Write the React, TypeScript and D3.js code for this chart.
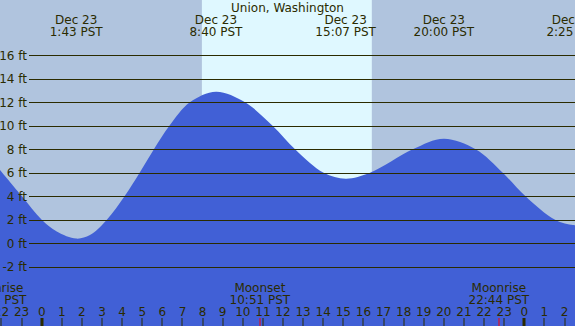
import React from "react";
import * as d3 from "d3";

// chart values
const stationName = "Union, Washington";
const ftTicks = [-2, 0, 2, 4, 6, 8, 10, 12, 14, 16];
const hourTicks = [-2, -1, 0, 1, 2, 3, 4, 5, 6, 7, 8, 9, 10, 11, 12, 13, 14, 15, 16, 17, 18, 19, 20, 21, 22, 23, 24, 25, 26];

// tide highs / lows printed on top
const tideEventDays = ["Dec 23", "Dec 23", "Dec 23", "Dec 23", "Dec 24"];
const tideEventTimes = ["1:43", "8:40", "15:07", "20:00", "2:25"];

// water level curve (hours from Dec 23 00:00, feet)
const tideHours = [-2.1, -0.98, 0, 0.75, 1.72, 2.4, 3.24, 4.12, 4.87, 5.58, 6.35, 7.37, 8.67, 10.11, 11.48, 12.6, 14.02, 15.12, 16.33, 18.45, 20.0, 21.58, 22.93, 24.06, 25.53, 26.42, 26.7];
const tideFeet = [6.3, 4.0, 2.0, 1.0, 0.4, 0.7, 2.0, 4.0, 6.0, 8.0, 10.0, 12.0, 12.9, 12.0, 10.0, 8.0, 6.0, 5.5, 6.0, 8.0, 8.9, 8.0, 6.0, 4.0, 2.0, 1.55, 1.57];

const sunrise = "7:58";
const sunset = "16:25";

const moonNames = ["Moonrise", "Moonset", "Moonrise"];
const moonDays = ["Dec 22", "Dec 23", "Dec 23"];
const moonTimes = ["21:44", "10:51", "22:44"];

const W = 575;
const H = 326;
const ink = "#2b2b00";
const font = "'DejaVu Sans', sans-serif";

const dayOffset = (d: string) => (d === "Dec 22" ? -24 : d === "Dec 24" ? 24 : 0);
const toHour = (t: string) => {
  const [h, m] = t.split(":").map(Number);
  return h + m / 60;
};

export default function App() {
  const x = d3.scaleLinear().domain([0, 24]).range([41.7, 524.3]);
  const y = d3.scaleLinear().domain([0, 16]).range([243.3, 55.3]);

  const pts = tideHours.map((h, i) => [h, tideFeet[i]] as [number, number]);
  const area = d3
    .area<[number, number]>()
    .x((d) => x(d[0]))
    .y0(H)
    .y1((d) => y(d[1]))
    .curve(d3.curveCatmullRom.alpha(0.5));

  const xRise = x(toHour(sunrise));
  const xSet = x(toHour(sunset));

  return (
    <svg
      width={W}
      height={H}
      style={{ position: "absolute", left: 0, top: 0 }}
      fontFamily={font}
    >
      <rect x={0} y={0} width={W} height={H} fill="#b0c4de" />
      <rect x={xRise} y={0} width={xSet - xRise} height={H} fill="#dff8ff" />
      <path d={area(pts) || ""} fill="#4160d6" />

      {/* gridlines + ft labels */}
      {ftTicks.map((f) => (
        <g key={f}>
          <line
            x1={29}
            x2={W}
            y1={Math.round(y(f)) + 0.5}
            y2={Math.round(y(f)) + 0.5}
            stroke={ink}
            strokeWidth={1}
          />
          <text x={27} y={y(f) + 4.5} textAnchor="end" fontSize={12} fill={ink}>
            {f} ft
          </text>
        </g>
      ))}

      {/* title */}
      <text x={W / 2} y={12} textAnchor="middle" fontSize={12} fill={ink}>
        {stationName}
      </text>

      {/* tide extremes */}
      {tideEventTimes.map((t, i) => {
        const cx = x(toHour(t) + dayOffset(tideEventDays[i]));
        return (
          <g key={i}>
            <text x={cx} y={24} textAnchor="middle" fontSize={12} fill={ink}>
              {tideEventDays[i]}
            </text>
            <text x={cx} y={36} textAnchor="middle" fontSize={12} fill={ink}>
              {t} PST
            </text>
          </g>
        );
      })}

      {/* hour ticks */}
      {hourTicks.map((h) => {
        const lab = ((h % 24) + 24) % 24;
        const mid = lab === 0;
        return (
          <g key={h}>
            <rect
              x={Math.round(x(h)) - (mid ? 1.5 : 0.5)}
              y={318}
              width={mid ? 3 : 1}
              height={8}
              fill={ink}
            />
            <text x={x(h)} y={316} textAnchor="middle" fontSize={12} fill={ink}>
              {lab}
            </text>
          </g>
        );
      })}

      {/* moon events */}
      {moonTimes.map((t, i) => {
        const cx = x(toHour(t) + dayOffset(moonDays[i]));
        return (
          <g key={i}>
            <rect x={Math.round(cx) - 0.5} y={318} width={1} height={8} fill="#ff0000" />
            <text x={cx} y={292} textAnchor="middle" fontSize={12} fill={ink}>
              {moonNames[i]}
            </text>
            <text x={cx} y={304} textAnchor="middle" fontSize={12} fill={ink}>
              {t} PST
            </text>
          </g>
        );
      })}
    </svg>
  );
}
